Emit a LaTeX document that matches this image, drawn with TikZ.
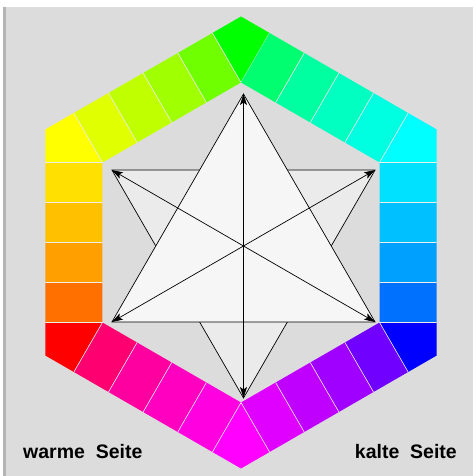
\documentclass[tikz,border=0pt]{standalone}
\usepackage{fontspec}
\newfontfamily\sidefont{Liberation Sans}
\usetikzlibrary{arrows.meta}
\definecolor{BackGray}{HTML}{DCDCDC}
\definecolor{EdgeGray}{HTML}{B4B4B4}
\definecolor{SepLine}{HTML}{EEEEEE}
\definecolor{DownFill}{HTML}{EBEBEB}
\definecolor{UpFill}{HTML}{F6F6F6}
% ring colours, one kite (K) and four blocks (A-D) per side
\definecolor{Side0K}{HTML}{00FF00}
\definecolor{Side0A}{HTML}{70FF00}
\definecolor{Side0B}{HTML}{A0FF00}
\definecolor{Side0C}{HTML}{C0FF00}
\definecolor{Side0D}{HTML}{E0FF00}
\definecolor{Side1K}{HTML}{FFFF00}
\definecolor{Side1A}{HTML}{FFE000}
\definecolor{Side1B}{HTML}{FFC000}
\definecolor{Side1C}{HTML}{FFA000}
\definecolor{Side1D}{HTML}{FF7000}
\definecolor{Side2K}{HTML}{FF0000}
\definecolor{Side2A}{HTML}{FF0070}
\definecolor{Side2B}{HTML}{FF00A0}
\definecolor{Side2C}{HTML}{FF00C0}
\definecolor{Side2D}{HTML}{FF00E0}
\definecolor{Side3K}{HTML}{FF00FF}
\definecolor{Side3A}{HTML}{E000FF}
\definecolor{Side3B}{HTML}{C000FF}
\definecolor{Side3C}{HTML}{A000FF}
\definecolor{Side3D}{HTML}{7000FF}
\definecolor{Side4K}{HTML}{0000FF}
\definecolor{Side4A}{HTML}{0070FF}
\definecolor{Side4B}{HTML}{00A0FF}
\definecolor{Side4C}{HTML}{00C0FF}
\definecolor{Side4D}{HTML}{00E0FF}
\definecolor{Side5K}{HTML}{00FFFF}
\definecolor{Side5A}{HTML}{00FFE0}
\definecolor{Side5B}{HTML}{00FFC0}
\definecolor{Side5C}{HTML}{00FFA0}
\definecolor{Side5D}{HTML}{00FF70}

\begin{document}
\begin{tikzpicture}[x=1pt, y=1pt,
            sep/.style={draw=SepLine, line width=0.6pt},
            tri/.style={draw=black, line width=0.7pt},
            arr/.style={{Stealth[length=11pt,width=7pt,inset=2.5pt]}-{Stealth[length=11pt,width=7pt,inset=2.5pt]}, line width=0.7pt},
            sidelabel/.style={inner sep=0pt, font=\sidefont\bfseries\fontsize{19.5}{22}\selectfont}
        ]
            \useasboundingbox (0,0) rectangle (475,476);
            \fill[white] (0,0) rectangle (475,476);
            \fill[BackGray] (3,0) rectangle (473,469);
            \fill[EdgeGray] (3,0) rectangle (6,469);
            % colour ring
            \foreach \s in {0,...,5}{
                \begin{scope}[shift={(241,233.5)}, rotate=60*\s]
                    \fill[fill=Side\s K] (0,226) -- (28.58,209.5) -- (0,160) -- (-28.58,209.5) -- cycle;
                    \fill[fill=Side\s A] (0,160) -- (-34.64,140) -- (-63.22,189.5) -- (-28.58,209.5) -- cycle;
                    \fill[fill=Side\s B] (-34.64,140) -- (-69.28,120) -- (-97.86,169.5) -- (-63.22,189.5) -- cycle;
                    \fill[fill=Side\s C] (-69.28,120) -- (-103.92,100) -- (-132.5,149.5) -- (-97.86,169.5) -- cycle;
                    \fill[fill=Side\s D] (-103.92,100) -- (-138.56,80) -- (-167.14,129.5) -- (-132.5,149.5) -- cycle;
                    \draw[sep] (28.58,209.5) -- (0,160) -- (-28.58,209.5);
                    \draw[sep] (-34.64,140) -- (-63.22,189.5) (-69.28,120) -- (-97.86,169.5) (-103.92,100) -- (-132.5,149.5);
                \end{scope}
            }
            % star
            \coordinate (up) at (243.5,382);
            \coordinate (ll) at (111.9,154);
            \coordinate (lr) at (375.1,154);
            \coordinate (dn) at (243.5,78);
            \coordinate (ul) at (111.9,306);
            \coordinate (ur) at (375.1,306);
            \filldraw[tri, fill=DownFill] (ul) -- (ur) -- (dn) -- cycle;
            \filldraw[tri, fill=UpFill] (up) -- (ll) -- (lr) -- cycle;
            \draw[arr] (up) -- (dn);
            \draw[arr] (ul) -- (lr);
            \draw[arr] (ur) -- (ll);
            \node[sidelabel, anchor=base west] (warm) at (23,17) {warme\ \ Seite};
            \node[sidelabel, anchor=base east] (cold) at (457,17) {kalte\ \ Seite};
        \end{tikzpicture}
\end{document}
